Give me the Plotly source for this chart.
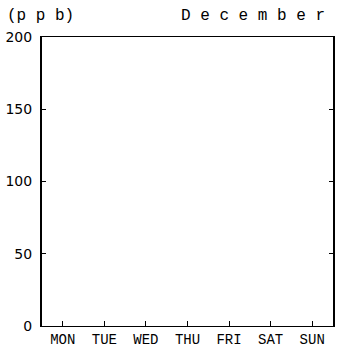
import plotly.graph_objects as go

days = ["MON", "TUE", "WED", "THU", "FRI", "SAT", "SUN"]
values = [None, None, None, None, None, None, None]
y_ticks = [0, 50, 100, 150, 200]
y_tick_labels = ["0", "50", "100", "150", "200"]
unit_label = "(p p b)"
month_label = "D e c e m b e r"

fig = go.Figure()
fig.add_trace(go.Scatter(x=days, y=values, mode="lines", line=dict(color="black"), showlegend=False))

font_main = "Liberation Mono, DejaVu Sans Mono, monospace"
fig.update_layout(
    width=338, height=349,
    margin=dict(l=42, r=5, t=37, b=23, autoexpand=False),
    paper_bgcolor="white", plot_bgcolor="white",
    font=dict(family=font_main, color="black", size=12),
    showlegend=False,
)
fig.update_xaxes(
    type="category", categoryorder="array", categoryarray=days,
    range=[-0.5, 6.5], automargin=False,
    showline=True, linecolor="black", linewidth=1.2, mirror=True,
    ticks="inside", ticklen=5, tickwidth=1, tickcolor="black",
    showgrid=False, zeroline=False,
    tickfont=dict(family=font_main, size=14),
)
fig.update_yaxes(
    range=[0, 200], tickvals=y_ticks, ticktext=y_tick_labels, automargin=False,
    showline=True, linecolor="black", linewidth=2, mirror="ticks",
    ticks="inside", ticklen=4, tickwidth=1, tickcolor="black",
    showgrid=False, zeroline=False, ticklabelstandoff=5,
    tickfont=dict(family="DejaVu Sans, Arial", size=14),
)
fig.add_annotation(text=unit_label, xref="paper", yref="paper", x=-37 / 291, y=1.0,
                   yshift=21, xanchor="left", yanchor="middle", showarrow=False,
                   font=dict(family=font_main, size=16, color="black"))
fig.add_annotation(text=month_label, xref="paper", yref="paper", x=1.0, y=1.0,
                   xshift=-6, yshift=21, xanchor="right", yanchor="middle", showarrow=False,
                   font=dict(family=font_main, size=16, color="black"))

fig.write_html("out.html", config={"displayModeBar": False},
               post_script="document.body.style.margin='0';document.body.style.overflow='hidden';")
